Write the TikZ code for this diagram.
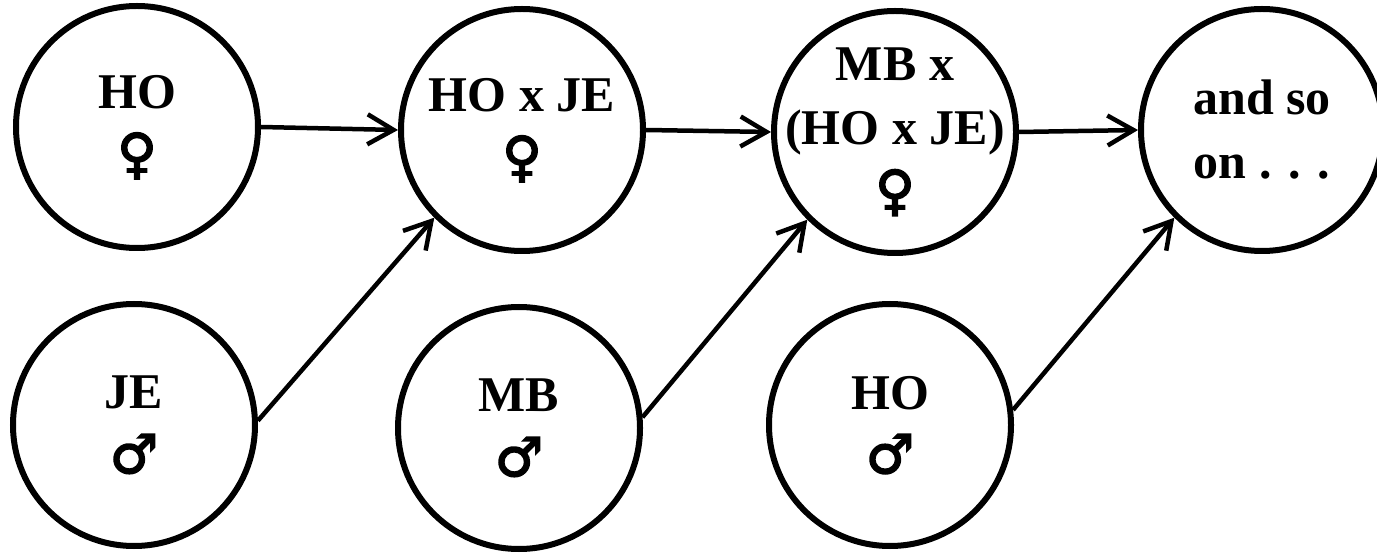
\documentclass[tikz,border=0pt]{standalone}
\usepackage{fontspec}
\setmainfont{Liberation Serif}
\newfontfamily\symfont[FakeBold=3]{DejaVu Sans}
\usetikzlibrary{arrows.meta}
\tikzset{
  gen/.style={circle, draw, line width=6pt, minimum size=242pt, inner sep=0pt},
  txt/.style={align=center, inner sep=0pt, font=\bfseries\fontsize{50}{64}\selectfont},
  conn/.style={line width=4.5pt, -{Straight Barb[length=26pt,width=30pt,line width=4.5pt]}}
}
\newcommand{\fem}{{\symfont\fontsize{54}{64}\selectfont ♀}}
\newcommand{\mal}{{\symfont\fontsize{54}{64}\selectfont ♂}}
\begin{document}
\begin{tikzpicture}[x=1pt,y=-1pt]
\useasboundingbox (0,0) rectangle (1377,553);
\node[gen] (ho) at (137,127) {};
\node[txt] (hot) at (ho) {HO\\\fem};
\node[gen] (hoje) at (522,130) {};
\node[txt] (hojet) at (hoje) {HO x JE\\\fem};
\node[gen] (mbx) at (895,132) {};
\node[txt] (mbxt) at (mbx) {MB x\\(HO x JE)\\\fem};
\node[gen] (so) at (1262,130) {};
\node[txt] (sot) at (so) {and so\\on . . .};
\node[gen] (je) at (134,425) {};
\node[txt] (jet) at (je) {JE\\\mal};
\node[gen] (mb) at (519,428) {};
\node[txt] (mbt) at (mb) {MB\\\mal};
\node[gen] (hom) at (890,425) {};
\node[txt] (homt) at (hom) {HO\\\mal};
\draw[conn] (ho.east) -- (hoje.west);
\draw[conn] (hoje.east) -- (mbx.west);
\draw[conn] (mbx.east) -- (so.west);
\draw[conn] (je.2) -- (hoje.225);
\draw[conn] (mb.5) -- (mbx.225);
\draw[conn] (hom.7) -- (so.225);
\end{tikzpicture}
\end{document}
